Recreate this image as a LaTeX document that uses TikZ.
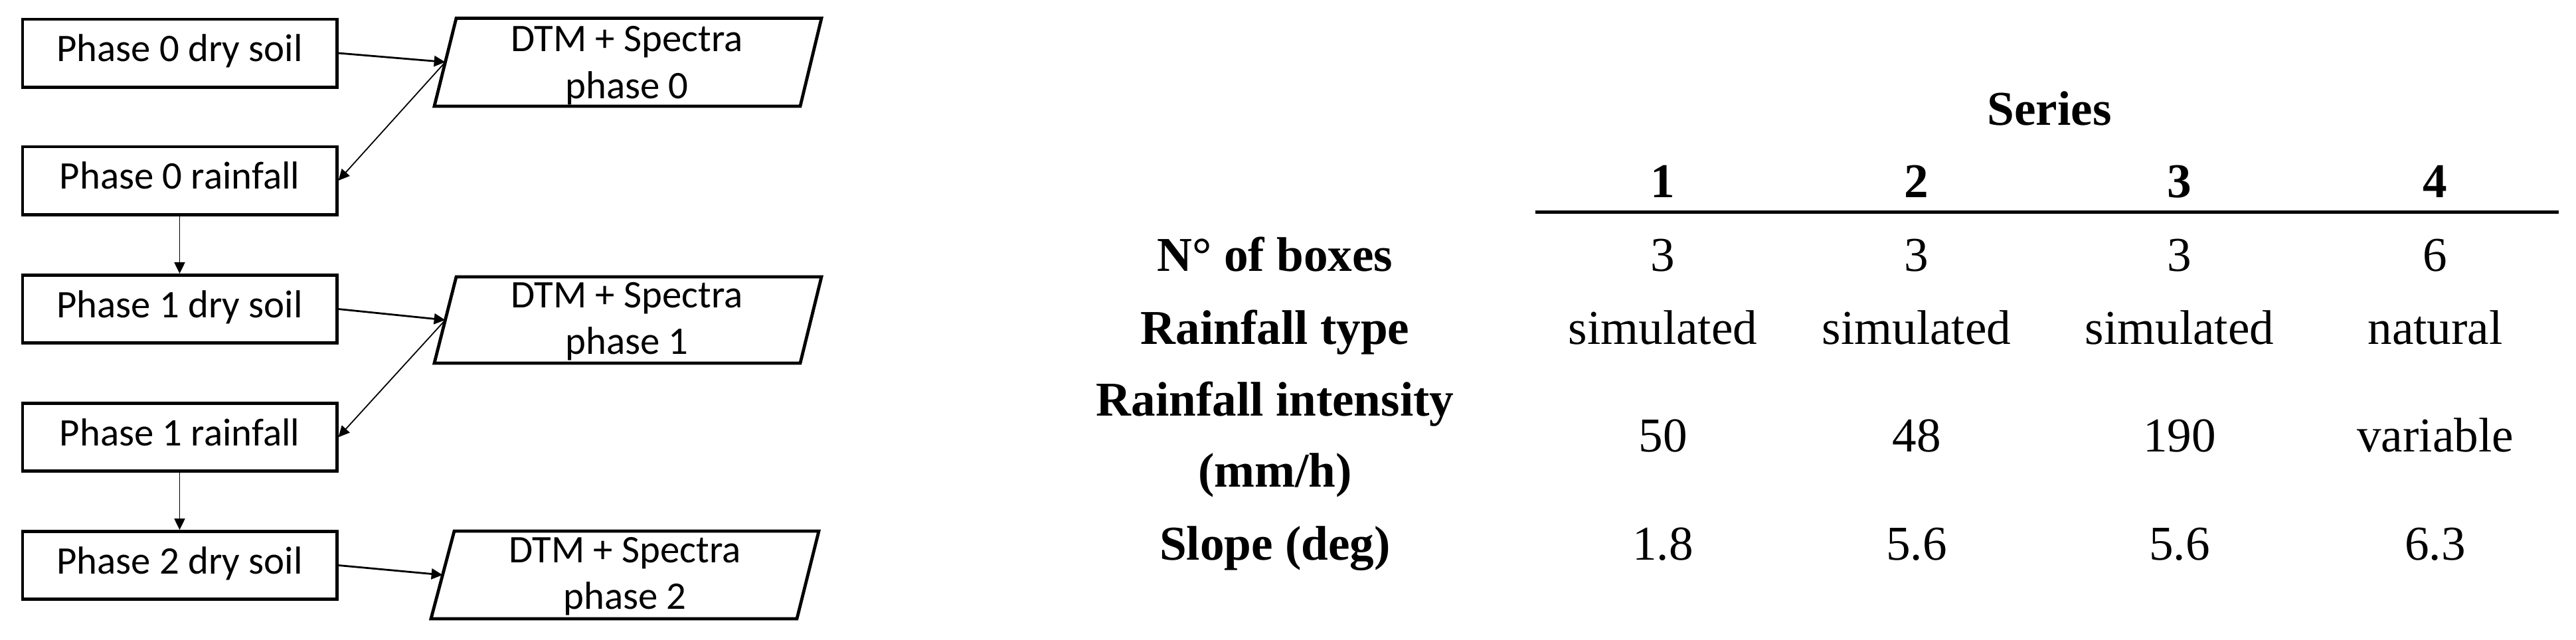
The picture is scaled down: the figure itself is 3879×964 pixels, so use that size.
\documentclass[tikz,border=0pt]{standalone}
\usepackage{fontspec}
\setmainfont{Liberation Serif}
\newfontfamily\calib{Carlito}
\usetikzlibrary{arrows.meta}
\begin{document}
\begin{tikzpicture}[x=0.25pt,y=-0.25pt,
  box/.style={draw,line width=1.2pt,minimum width=118.3pt,minimum height=25.55pt,inner sep=0pt,font=\calib\fontsize{14.7}{17.6}\selectfont,text height=0.63em,text depth=0pt},
  para/.style={draw,line width=1.2pt,line join=miter},
  ptext/.style={anchor=base,inner sep=0pt,font=\calib\fontsize{14.7}{17.6}\selectfont},
  conn/.style={-{Triangle[length=4.2pt,width=4pt]},line width=0.45pt},
  hconn/.style={conn,line width=0.7pt},
  th/.style={anchor=base,inner sep=0pt,font=\fontsize{18.3}{22}\selectfont\bfseries},
  td/.style={anchor=base,inner sep=0pt,font=\fontsize{18.3}{22}\selectfont}]
\useasboundingbox (0,0) rectangle (3879,964);

% left flow boxes
\node[box] (b1) at (270.5,80) {Phase 0 dry soil};
\node[box] (b2) at (270.5,272) {Phase 0 rainfall};
\node[box] (b3) at (270.5,465.5) {Phase 1 dry soil};
\node[box] (b4) at (270.5,658.5) {Phase 1 rainfall};
\node[box] (b5) at (270.5,851.5) {Phase 2 dry soil};

% parallelograms
\draw[para] (687,27.5) -- (1237,27.5) -- (1205,160) -- (654,160) -- cycle;
\coordinate (p0w) at (670.5,93.5);
\node[ptext] (p0a) at (944,78) {DTM + Spectra};
\node[ptext] (p0b) at (944,148) {phase 0};

\draw[para] (687,417) -- (1237,417) -- (1205,547) -- (654,547) -- cycle;
\coordinate (p1w) at (670.5,482);
\node[ptext] (p1a) at (944,463) {DTM + Spectra};
\node[ptext] (p1b) at (944,533) {phase 1};

\draw[para] (684,800) -- (1233,800) -- (1200,932) -- (649,932) -- cycle;
\coordinate (p2w) at (666.5,866);
\node[ptext] (p2a) at (941,847) {DTM + Spectra};
\node[ptext] (p2b) at (941,917) {phase 2};

% connectors
\draw[hconn] (b1.east) -- (p0w);
\draw[conn] (p0w) -- (b2.east);
\draw[conn] (b2.south) -- (b3.north);
\draw[hconn] (b3.east) -- (p1w);
\draw[conn] (p1w) -- (b4.east);
\draw[conn] (b4.south) -- (b5.north);
\draw[hconn] (b5.east) -- (p2w);

% table
\node[th] (series) at (3086,188) {Series};
\node[th] (c1) at (2504,297) {1};
\node[th] (c2) at (2886,297) {2};
\node[th] (c3) at (3282,297) {3};
\node[th] (c4) at (3667,297) {4};
\coordinate (rl) at (2312,319.5);
\coordinate (rr) at (3853,319.5);
\draw[line width=1.25pt] (rl) -- (rr);

\node[th] (r1) at (1920,408) {N° of boxes};
\node[td] (v11) at (2504,408) {3};
\node[td] (v12) at (2886,408) {3};
\node[td] (v13) at (3282,408) {3};
\node[td] (v14) at (3667,408) {6};

\node[th] (r2) at (1920,518) {Rainfall type};
\node[td] (v21) at (2504,518) {simulated};
\node[td] (v22) at (2886,518) {simulated};
\node[td] (v23) at (3282,518) {simulated};
\node[td] (v24) at (3667,518) {natural};

\node[th] (r3a) at (1920,626) {Rainfall intensity};
\node[th] (r3b) at (1920,733) {(mm/h)};
\node[td] (v31) at (2504,680) {50};
\node[td] (v32) at (2886,680) {48};
\node[td] (v33) at (3282,680) {190};
\node[td] (v34) at (3667,680) {variable};

\node[th] (r4) at (1920,843) {Slope (deg)};
\node[td] (v41) at (2504,843) {1.8};
\node[td] (v42) at (2886,843) {5.6};
\node[td] (v43) at (3282,843) {5.6};
\node[td] (v44) at (3667,843) {6.3};
\end{tikzpicture}
\end{document}
